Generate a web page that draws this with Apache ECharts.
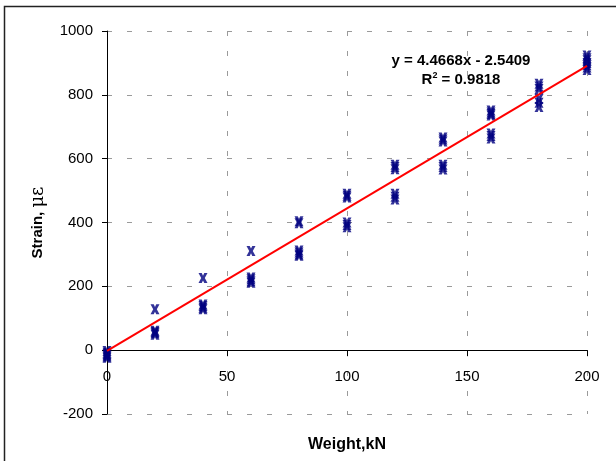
<!DOCTYPE html>
<html><head><meta charset="utf-8">
<script src="https://cdn.jsdelivr.net/npm/echarts@6/dist/echarts.min.js"></script>
<style>html,body{margin:0;padding:0;background:#fff}#c{width:616px;height:461px}</style>
</head><body><div id="c"></div>
<script>
// Applied load (kN) and the strain readings (με) recorded at each load
const loads = [0, 20, 40, 60, 80, 100, 120, 140, 160, 180, 200];
const strainReadings = [
  [-3, -8, -12, -16, -20, -24],
  [128, 61, 57, 53, 48],
  [226, 143, 138, 133, 128],
  [311, 228, 222, 216, 211],
  [404, 398, 312, 306, 300, 296],
  [490, 484, 478, 400, 392, 385],
  [581, 574, 567, 490, 481, 472],
  [666, 660, 654, 581, 574, 566],
  [751, 745, 740, 735, 679, 671, 663],
  [835, 826, 818, 787, 775, 762],
  [923, 915, 908, 900, 893, 886, 878]
];
// Linear trendline end points (y = 4.4668x - 2.5409)
const trendX = [0, 200];
const trendY = [-2.5409, 890.8191];
const equationText = 'y = 4.4668x - 2.5409';
const r2Text = '0.9818';
const xTickMin = 0, xTickMax = 200, xTickStep = 50;
const yTickMin = -200, yTickMax = 1000, yTickStep = 200;

const scatterData = [];
loads.forEach((x, i) => strainReadings[i].forEach(y => scatterData.push([x, y])));
const trendData = trendX.map((x, i) => [x, trendY[i]]);

const FONT = "'Liberation Sans', Arial, Helvetica, sans-serif";
const GRID = {left: 107, right: 29, top: 31, bottom: 47};
const plotH = 461 - GRID.top - GRID.bottom;
// shift the x axis up so it sits on strain = 0
const zeroOffset = -plotH * (0 - yTickMin) / (yTickMax - yTickMin);

const chart = echarts.init(document.getElementById('c'), null, {renderer: 'canvas'});
const gridLine = {show: true, lineStyle: {color: '#9a9a9a', width: 1, type: [5, 15]}};
chart.setOption({
  backgroundColor: '#ffffff',
  animation: false,
  grid: Object.assign({containLabel: false, outerBoundsMode: 'none'}, GRID),
  xAxis: {
    type: 'value', min: xTickMin, max: xTickMax, interval: xTickStep,
    position: 'bottom', offset: zeroOffset,
    axisLine: {show: true, onZero: false, lineStyle: {color: '#000', width: 1}},
    axisTick: {show: true, inside: false, length: 6, lineStyle: {color: '#000', width: 1}},
    axisLabel: {margin: 19, color: '#000', fontSize: 15, fontFamily: FONT, formatter: v => String(v)},
    splitLine: gridLine,
    name: 'Weight,kN', nameLocation: 'middle', nameGap: 86,
    nameTextStyle: {color: '#000', fontSize: 16, fontWeight: 'bold', fontFamily: FONT}
  },
  yAxis: {
    type: 'value', min: yTickMin, max: yTickMax, interval: yTickStep,
    axisLine: {show: true, onZero: false, lineStyle: {color: '#000', width: 1}},
    axisTick: {show: true, inside: false, length: 5, lineStyle: {color: '#000', width: 1}},
    axisLabel: {margin: 14, color: '#000', fontSize: 15, fontFamily: FONT, formatter: v => String(v)},
    splitLine: gridLine,
    name: '{b|Strain, }{g|με}', nameLocation: 'middle', nameGap: 60,
    nameTextStyle: {
      color: '#000', fontSize: 15, fontFamily: FONT,
      rich: {
        b: {fontSize: 15, fontWeight: 'bold', fontFamily: FONT, color: '#000'},
        g: {fontSize: 18, fontWeight: 'normal', fontFamily: "'DejaVu Serif', 'Liberation Serif', serif", color: '#000'}
      }
    }
  },
  graphic: [
    {type: 'rect', silent: true, z: -10,
     shape: {x: 4.5, y: 6.5, width: 700, height: 600},
     style: {fill: 'none', stroke: '#222', lineWidth: 1.5}},
    {type: 'text', silent: true, z: 10,
     style: {text: equationText, x: 461, y: 61, fill: '#000',
             font: "bold 15px " + FONT, textAlign: 'center', textVerticalAlign: 'middle',
             align: 'center', verticalAlign: 'middle'}},
    {type: 'text', silent: true, z: 10,
     style: {text: '{n|R}{s|2}{n| = ' + r2Text + '}', x: 461, y: 80, fill: '#000',
             font: "bold 15px " + FONT, textAlign: 'center', textVerticalAlign: 'middle',
             align: 'center', verticalAlign: 'middle',
             rich: {
               n: {fontSize: 15, fontWeight: 'bold', fontFamily: FONT, fill: '#000', color: '#000', lineHeight: 17},
               s: {fontSize: 9, fontWeight: 'bold', fontFamily: FONT, fill: '#000', color: '#000', verticalAlign: 'top', lineHeight: 17}
             }}}
  ],
  series: [
    {
      type: 'scatter', z: 3,
      symbol: 'path://M0,0 L3.6,0 L5,2.6 L6.4,0 L10,0 L7,5 L10,10 L6.4,10 L5,7.4 L3.6,10 L0,10 L3,5 Z',
      symbolSize: [9, 10],
      itemStyle: {color: '#000080'},
      data: scatterData
    },
    {
      type: 'line', z: 4, silent: true,
      symbol: 'none',
      lineStyle: {color: '#ff0000', width: 2},
      data: trendData
    }
  ]
});
</script></body></html>
